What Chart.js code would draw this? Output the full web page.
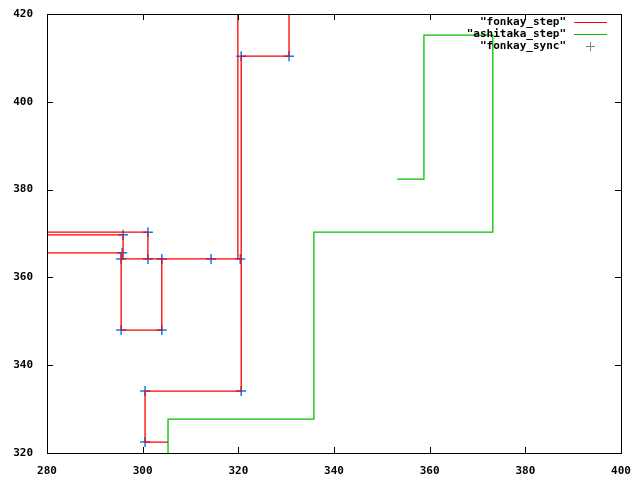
<!DOCTYPE html>
<html><head><meta charset="utf-8">
<script src="https://cdn.jsdelivr.net/npm/chart.js@4/dist/chart.umd.min.js"></script>
<style>html,body{margin:0;background:#fff}#wrap{width:640px;height:480px}</style>
</head><body><div id="wrap"><canvas id="c"></canvas></div>
<script>
const seriesNames = ['"fonkay_step"', '"ashitaka_step"', '"fonkay_sync"'];
const xTicks = [280, 300, 320, 340, 360, 380, 400];
const yTicks = [320, 340, 360, 380, 400, 420];
// red step path, null = break
const fonkayStep = [
  [280,370.3],[301.1,370.3],[301.1,364.2],null,
  [280,369.7],[295.9,369.7],[295.9,364.2],null,
  [280,365.6],[295.5,365.6],[295.5,348],[304,348],[304,364.2],null,
  [295.5,364.2],[320.6,364.2],null,
  [319.9,420],[319.9,364.2],null,
  [330.6,420],[330.6,410.4],[320.6,410.4],[320.6,334.1],[300.5,334.1],[300.5,322.5],[305.3,322.5]
];
const ashitakaStep = [
  [305.3,320],[305.3,327.7],[335.8,327.7],[335.8,370.3],[373.2,370.3],
  [373.2,415.2],[358.8,415.2],[358.8,382.4],[353.2,382.4]
];
const fonkaySync = [
  [295.9,369.7],[301.1,370.3],[295.7,365.6],[295.5,364.2],[301.1,364.2],[304,364.2],
  [314.3,364.2],[320.4,364.2],[295.5,348],[304,348],[320.6,410.4],[330.6,410.4],
  [300.5,334.1],[320.6,334.1],[300.5,322.5]
];
const toPts = a => a.map(p => p ? {x: p[0], y: p[1]} : {x: null, y: null});

const frame = {
  id: 'frame',
  afterDraw(chart) {
    const {ctx, chartArea: a, scales: {x, y}} = chart;
    ctx.save();
    ctx.strokeStyle = '#000'; ctx.lineWidth = 1;
    ctx.strokeRect(a.left + .5, a.top + .5, a.right - a.left, a.bottom - a.top);
    ctx.beginPath();
    xTicks.forEach(v => { const p = Math.round(x.getPixelForValue(v)) + .5;
      ctx.moveTo(p, a.bottom); ctx.lineTo(p, a.bottom - 6); ctx.moveTo(p, a.top); ctx.lineTo(p, a.top + 6); });
    yTicks.forEach(v => { const p = Math.round(y.getPixelForValue(v)) + .5;
      ctx.moveTo(a.left, p); ctx.lineTo(a.left + 6, p); ctx.moveTo(a.right, p); ctx.lineTo(a.right - 6, p); });
    ctx.stroke();
    // legend
    ctx.font = 'bold 11px "DejaVu Sans Mono"'; ctx.textAlign = 'right'; ctx.textBaseline = 'middle';
    const cols = ['#ff0000', '#00c000', '#808080'];
    seriesNames.forEach((n, i) => {
      const yy = a.top + 8 + i * 12;
      ctx.fillStyle = '#000'; ctx.fillText(n, 566, yy);
      ctx.strokeStyle = cols[i]; ctx.beginPath();
      if (i < 2) { ctx.moveTo(574, yy + .5); ctx.lineTo(607, yy + .5); }
      else { ctx.moveTo(586, yy + .5); ctx.lineTo(595, yy + .5); ctx.moveTo(590.5, yy - 4); ctx.lineTo(590.5, yy + 5); }
      ctx.stroke();
    });
    ctx.restore();
  }
};

new Chart(document.getElementById('c'), {
  type: 'scatter',
  data: { datasets: [
    { label: seriesNames[0], data: toPts(fonkayStep), showLine: true, spanGaps: false, borderColor: '#ff0000', borderWidth: 1.3, pointRadius: 0 },
    { label: seriesNames[1], data: toPts(ashitakaStep), showLine: true, borderColor: '#00c000', borderWidth: 1.3, pointRadius: 0 },
    { label: seriesNames[2], data: toPts(fonkaySync), showLine: false, pointStyle: 'cross', pointRadius: 5, borderColor: '#0080ff', borderWidth: 1.5 }
  ]},
  options: {
    responsive: true, maintainAspectRatio: false, animation: false,
    layout: { padding: { top: 14, right: 19 } },
    plugins: { legend: { display: false }, tooltip: { enabled: false } },
    scales: {
      x: { type: 'linear', min: 280, max: 400, afterFit: s => { s.height = 27; },
        afterBuildTicks: s => { s.ticks = xTicks.map(v => ({value: v})); },
        grid: { display: false }, border: { display: false },
        ticks: { color: '#000', font: { family: 'DejaVu Sans Mono', size: 11, weight: 'bold' }, padding: 4 } },
      y: { type: 'linear', min: 320, max: 420, afterFit: s => { s.width = 47; },
        afterBuildTicks: s => { s.ticks = yTicks.map(v => ({value: v})); },
        grid: { display: false }, border: { display: false },
        ticks: { color: '#000', font: { family: 'DejaVu Sans Mono', size: 11, weight: 'bold' }, padding: 6 } }
    }
  },
  plugins: [frame]
});
</script></body></html>
